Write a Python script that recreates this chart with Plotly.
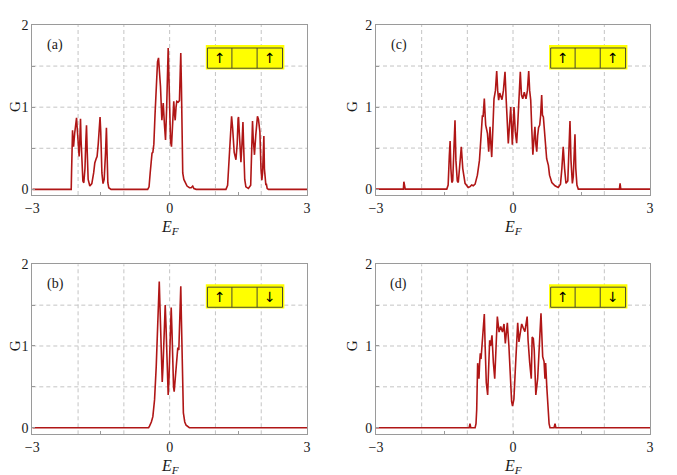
import plotly.graph_objects as go

# ---------------- data ----------------
EF_A = [-3.0, -2.150, -2.143, -2.130, -2.121, -2.110, -2.099, -2.075, -2.045, -2.034, -2.020, -1.990,
        -1.977, -1.960, -1.947, -1.935, -1.915, -1.895, -1.875, -1.850, -1.830, -1.816, -1.800, -1.780,
        -1.744, -1.700, -1.660, -1.635, -1.600, -1.585, -1.560, -1.535, -1.520, -1.505, -1.480, -1.455,
        -1.430, -1.400, -1.381, -1.365, -1.350, -1.330, -1.280,
        -0.480, -0.450, -0.425, -0.402, -0.385, -0.367, -0.345, -0.320, -0.290, -0.265, -0.243, -0.225,
        -0.200, -0.170, -0.140, -0.115, -0.090, -0.065, -0.045, -0.032, -0.018, 0.000, 0.020, 0.040,
        0.060, 0.080, 0.090, 0.105, 0.121, 0.140, 0.156, 0.185, 0.214, 0.230, 0.243, 0.256, 0.270,
        0.286, 0.310, 0.338, 0.380, 0.432, 0.470, 0.504, 0.530, 0.580,
        1.230, 1.266, 1.300, 1.330, 1.353, 1.375, 1.410, 1.448, 1.475, 1.495, 1.505, 1.520, 1.540,
        1.557, 1.580, 1.601, 1.615, 1.640, 1.665, 1.720, 1.770, 1.790, 1.810, 1.825, 1.853, 1.880,
        1.905, 1.918, 1.940, 1.971, 1.995, 2.014, 2.030, 2.050, 2.058, 2.070, 2.086, 2.100, 2.114,
        2.130, 2.160, 3.0]
G_A = [0.0, 0.0, 0.20, 0.60, 0.72, 0.58, 0.52, 0.68, 0.84, 0.87, 0.75, 0.45,
       0.40, 0.62, 0.86, 0.60, 0.25, 0.10, 0.08, 0.25, 0.60, 0.78, 0.45, 0.12,
       0.04, 0.07, 0.20, 0.32, 0.38, 0.40, 0.55, 0.80, 0.88, 0.70, 0.20, 0.07,
       0.12, 0.45, 0.75, 0.40, 0.08, 0.02, 0.0,
       0.0, 0.03, 0.20, 0.42, 0.44, 0.45, 0.55, 0.90, 1.30, 1.55, 1.60, 1.48,
       1.25, 0.84, 1.05, 0.80, 0.60, 1.00, 1.50, 1.72, 1.40, 0.85, 0.58, 0.52,
       0.75, 1.02, 1.07, 0.93, 0.84, 1.00, 1.07, 1.06, 1.08, 1.40, 1.66, 1.30, 0.55,
       0.20, 0.12, 0.08, 0.04, 0.02, 0.02, 0.04, 0.01, 0.0,
       0.0, 0.05, 0.40, 0.82, 0.89, 0.75, 0.45, 0.36, 0.55, 0.86, 0.88, 0.70, 0.40,
       0.33, 0.55, 0.82, 0.55, 0.12, 0.03, 0.01, 0.05, 0.45, 0.83, 0.62, 0.42, 0.65,
       0.86, 0.89, 0.85, 0.70, 0.25, 0.11, 0.20, 0.62, 0.65, 0.25, 0.09, 0.06, 0.06,
       0.01, 0.0, 0.0]

EF_B = [-3.0, -0.460, -0.440, -0.400, -0.367, -0.330, -0.293, -0.258, -0.240, -0.227, -0.212, -0.195,
        -0.175, -0.162, -0.145, -0.120, -0.097, -0.080, -0.060, -0.045, -0.032, -0.015, 0.010, 0.034,
        0.050, 0.070, 0.085, 0.099, 0.120, 0.140, 0.156, 0.178, 0.200, 0.220, 0.243, 0.258, 0.273,
        0.300, 0.330, 0.360, 0.430, 3.0]
G_B = [0.0, 0.0, 0.02, 0.07, 0.135, 0.34, 0.75, 1.44, 1.70, 1.79, 1.50, 1.10,
       0.70, 0.56, 0.75, 1.25, 1.50, 1.25, 0.75, 0.48, 0.40, 0.60, 1.20, 1.47,
       1.20, 0.70, 0.50, 0.44, 0.60, 0.80, 0.91, 0.98, 0.95, 1.30, 1.73, 1.30, 0.83,
       0.18, 0.07, 0.03, 0.0, 0.0]

EF_C = [-3.0, -2.400, -2.390, -2.375, -2.360, -1.450, -1.420, -1.395, -1.377, -1.360, -1.340, -1.320,
        -1.295, -1.270, -1.250, -1.220, -1.198, -1.170, -1.132, -1.100, -1.050, -0.980, -0.940, -0.904,
        -0.870, -0.830, -0.780, -0.750, -0.735, -0.700, -0.670, -0.655, -0.628, -0.610, -0.598, -0.575,
        -0.560, -0.532, -0.515, -0.503, -0.485, -0.466, -0.440, -0.416, -0.385, -0.357, -0.335, -0.314,
        -0.290, -0.265, -0.241, -0.210, -0.175, -0.150, -0.125, -0.103, -0.080, -0.050, -0.035, -0.015,
        0.005, 0.022, 0.050, 0.080, 0.105, 0.130, 0.160, 0.185, 0.213, 0.247, 0.285, 0.315, 0.344,
        0.365, 0.388, 0.410, 0.435, 0.460, 0.480, 0.500, 0.520, 0.540, 0.560, 0.585, 0.605, 0.628,
        0.645, 0.665, 0.700, 0.737, 0.775, 0.800, 0.850, 0.920, 0.990, 1.040, 1.070, 1.100, 1.130,
        1.160, 1.200, 1.225, 1.248, 1.270, 1.300, 1.320, 1.340, 1.357, 1.375, 1.400, 1.430, 2.330,
        2.345, 2.360, 3.0]
G_C = [0.0, 0.0, 0.09, 0.02, 0.0, 0.0, 0.05, 0.40, 0.585, 0.25, 0.08, 0.10,
       0.40, 0.84, 0.35, 0.10, 0.08, 0.25, 0.515, 0.25, 0.07, 0.02, 0.03, 0.05,
       0.04, 0.06, 0.17, 0.29, 0.35, 0.64, 0.90, 0.88, 1.105, 0.90, 0.78, 0.72,
       0.68, 0.455, 0.60, 0.76, 0.55, 0.39, 0.75, 1.10, 1.20, 1.44, 1.20, 1.085,
       1.17, 1.12, 1.09, 1.20, 1.43, 1.10, 0.75, 0.557, 0.75, 1.00, 0.80, 0.54,
       0.80, 1.00, 0.70, 0.56, 0.80, 1.10, 1.43, 1.15, 1.10, 1.18, 1.10, 1.20, 1.44,
       1.20, 1.085, 0.75, 0.42, 0.62, 0.76, 0.55, 0.455, 0.65, 0.75, 0.78, 0.90, 1.146,
       0.90, 0.88, 0.62, 0.37, 0.29, 0.17, 0.08, 0.04, 0.02, 0.06, 0.25, 0.515, 0.25,
       0.07, 0.10, 0.40, 0.83, 0.35, 0.07, 0.15, 0.50, 0.667, 0.25, 0.05, 0.0, 0.0,
       0.07, 0.0, 0.0]

EF_D = [-3.0, -0.960, -0.942, -0.925, -0.830, -0.810, -0.795, -0.785, -0.774, -0.760, -0.745, -0.730,
        -0.716, -0.700, -0.686, -0.655, -0.628, -0.610, -0.585, -0.555, -0.530, -0.511, -0.490, -0.460,
        -0.430, -0.400, -0.370, -0.343, -0.305, -0.270, -0.230, -0.197, -0.168, -0.124, -0.090, -0.060,
        -0.030, -0.010, 0.020, 0.050, 0.075, 0.103, 0.130, 0.160, 0.190, 0.225, 0.260, 0.310, 0.330,
        0.365, 0.400, 0.420, 0.445, 0.465, 0.500, 0.540, 0.585, 0.613, 0.650, 0.680, 0.700, 0.715,
        0.740, 0.770, 0.790, 0.810, 0.900, 0.920, 0.938, 3.0]
G_D = [0.0, 0.0, 0.05, 0.0, 0.0, 0.05, 0.22, 0.60, 0.79, 0.70, 0.60, 0.80,
       0.91, 0.84, 0.93, 1.20, 1.39, 1.00, 0.55, 0.40, 0.80, 1.07, 1.00, 1.13,
       0.80, 0.60, 1.00, 1.36, 1.17, 1.24, 1.17, 1.27, 1.03, 1.285, 1.00, 0.55,
       0.32, 0.265, 0.35, 0.70, 1.10, 1.285, 1.05, 1.20, 1.27, 1.22, 1.175, 1.36, 1.07,
       0.80, 0.60, 1.11, 1.09, 0.95, 0.40, 0.60, 1.20, 1.40, 0.87, 0.81, 0.60, 0.79,
       0.50, 0.22, 0.05, 0.0, 0.0, 0.05, 0.0, 0.0]

PANEL_LABELS = ["(a)", "(c)", "(b)", "(d)"]
SPIN_LEFT = ["\u2191", "\u2191", "\u2191", "\u2191"]
SPIN_RIGHT = ["\u2191", "\u2191", "\u2193", "\u2193"]
X_TICKS = [-3, 0, 3]
X_TICKTEXT = ["\u22123", "0", "3"]
X_MINOR = [-1.5, 1.5]
Y_TICKS = [0, 1, 2]
Y_TICKTEXT = ["0", "1", "2"]
Y_MINOR = [0.5, 1.5]
GRID_X = [-2, -1, 0, 1, 2]
GRID_Y = [0.5, 1, 1.5]

# ---------------- geometry (screen pixels; page body has an 8px margin) ----------------
OX, OY = 8, 8
FW, FH = 677 - OX, 475 - OY


def px_x(X):
    return (X - OX) / FW


def px_y(Y):
    return 1 - (Y - OY) / FH


SERIF = "Liberation Serif"
LINE_COLOR = "#B01616"
FRAME = "#9a9a9a"
GRIDC = "#c4c4c4"
TXT = "#1a1a1a"

# (suffix, x-data, y-data, x pixel span, y pixel span, y min, G label x pixel)
panels = [
    ("", EF_A, G_A, (32.3, 307.0), (25.0, 195.0), -0.069, 15.0),
    ("2", EF_C, G_C, (376.0, 650.0), (25.0, 195.0), -0.072, 352.0),
    ("3", EF_B, G_B, (32.3, 307.0), (264.3, 434.3), -0.081, 15.0),
    ("4", EF_D, G_D, (376.0, 650.0), (264.3, 434.3), -0.081, 352.0),
]

fig = go.Figure()
shapes = []
annotations = []
layout_axes = {}

for i, (s, xs, ys, (px0, px1), (py0, py1), ymin, gx_px) in enumerate(panels):
    xa, ya = "x" + s, "y" + s
    fig.add_trace(go.Scatter(x=xs, y=ys, mode="lines", xaxis=xa, yaxis=ya,
                             line=dict(color=LINE_COLOR, width=1.6), showlegend=False,
                             hoverinfo="skip"))
    layout_axes["xaxis" + s] = dict(
        domain=[px_x(px0), px_x(px1)], anchor=ya, range=[-3, 3], showgrid=False, zeroline=False,
        automargin=False, showline=True, mirror=True, linecolor=FRAME, linewidth=1,
        tickmode="array", tickvals=X_TICKS, ticktext=X_TICKTEXT,
        ticks="inside", ticklen=3, tickcolor=FRAME,
        minor=dict(tickmode="array", tickvals=X_MINOR, ticks="inside", ticklen=3,
                   tickcolor=FRAME, showgrid=False),
        tickfont=dict(family=SERIF, size=14, color=TXT))
    layout_axes["yaxis" + s] = dict(
        domain=[px_y(py1), px_y(py0)], anchor=xa, range=[ymin, 2.0], showgrid=False,
        zeroline=False, automargin=False, showline=True, mirror=True, linecolor=FRAME, linewidth=1,
        tickmode="array", tickvals=Y_TICKS, ticktext=Y_TICKTEXT,
        ticks="inside", ticklen=3, tickcolor=FRAME,
        minor=dict(tickmode="array", tickvals=Y_MINOR, ticks="inside", ticklen=3,
                   tickcolor=FRAME, showgrid=False),
        tickfont=dict(family=SERIF, size=14, color=TXT))

    # dashed grid
    for gx in GRID_X:
        shapes.append(dict(type="line", xref=xa, yref=ya + " domain", x0=gx, x1=gx, y0=0, y1=1,
                           line=dict(color=GRIDC, width=1, dash="4px,3px"), layer="below"))
    for gy in GRID_Y:
        shapes.append(dict(type="line", xref=xa + " domain", yref=ya, x0=0, x1=1, y0=gy, y1=gy,
                           line=dict(color=GRIDC, width=1, dash="4px,3px"), layer="below"))

    # spin inset
    shapes.append(dict(type="rect", xref=xa, yref=ya, x0=0.79, x1=2.505, y0=1.458, y1=1.757,
                       fillcolor="#FFFF00", line=dict(width=0)))
    shapes.append(dict(type="rect", xref=xa, yref=ya, x0=0.825, x1=2.465, y0=1.474, y1=1.72,
                       fillcolor="#FFFF00", line=dict(color="#4a4a30", width=1)))
    for dx in (1.36, 1.91):
        shapes.append(dict(type="line", xref=xa, yref=ya, x0=dx, x1=dx, y0=1.474, y1=1.72,
                           line=dict(color="#4a4a30", width=1)))
    annotations.append(dict(xref=xa, yref=ya, x=1.09, y=1.60, text=SPIN_LEFT[i], showarrow=False,
                            font=dict(family="DejaVu Sans", size=14, color="black")))
    annotations.append(dict(xref=xa, yref=ya, x=2.19, y=1.60, text=SPIN_RIGHT[i], showarrow=False,
                            font=dict(family="DejaVu Sans", size=14, color="black")))

    # panel label
    annotations.append(dict(xref=xa, yref=ya, x=-2.5, y=1.76, text=PANEL_LABELS[i], showarrow=False,
                            font=dict(family=SERIF, size=14, color=TXT)))
    # axis titles
    annotations.append(dict(xref="paper", yref="paper", x=px_x((px0 + px1) / 2),
                            y=px_y(py1 + 32), text="<i>E</i><sub><i>F</i></sub>",
                            showarrow=False, xanchor="center", yanchor="middle",
                            font=dict(family=SERIF, size=16, color=TXT)))
    annotations.append(dict(xref="paper", yref="paper", x=px_x(gx_px),
                            y=px_y((py0 + py1) / 2 - 3), text="G", textangle=-90,
                            showarrow=False, xanchor="center", yanchor="middle",
                            font=dict(family=SERIF, size=15, color=TXT)))

fig.update_layout(width=FW, height=FH, margin=dict(l=0, r=0, t=0, b=0),
                  paper_bgcolor="white", plot_bgcolor="white",
                  shapes=shapes, annotations=annotations, **layout_axes)

fig.write_html("out.html")
